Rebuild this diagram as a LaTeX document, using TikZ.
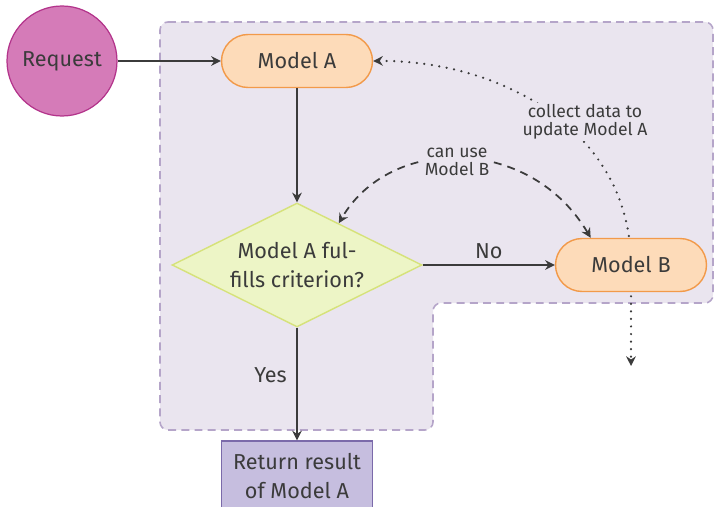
\documentclass[tikz,border=0pt]{standalone}
\usepackage{fontspec}
\setmainfont{Fira Sans}
\usetikzlibrary{shapes.geometric,arrows.meta,backgrounds}

\definecolor{ink}{HTML}{3B3B3B}
\definecolor{reqfill}{HTML}{D57BB8}
\definecolor{reqline}{HTML}{B3348B}
\definecolor{modelfill}{HTML}{FDDBB9}
\definecolor{modelline}{HTML}{F29A4A}
\definecolor{critfill}{HTML}{EDF5C6}
\definecolor{critline}{HTML}{D6E27A}
\definecolor{retfill}{HTML}{C6BEDF}
\definecolor{retline}{HTML}{7B6AAA}
\definecolor{areafill}{HTML}{EAE5EF}
\definecolor{arealine}{HTML}{B5A5C9}

\tikzset{
  txt/.style={text=ink, font=\fontsize{12.3}{16.5}\selectfont},
  start/.style={txt, circle, draw=reqline, fill=reqfill, minimum size=2.2cm, line width=0.7pt},
  model/.style={txt, draw=modelline, fill=modelfill, rounded corners=0.53cm,
    minimum width=3.02cm, minimum height=1.06cm, line width=0.8pt},
  check/.style={txt, diamond, aspect=2, draw=critline, fill=critfill, align=center, inner sep=0pt,
    minimum width=5cm, minimum height=2.48cm, line width=0.8pt},
  result/.style={txt, draw=retline, fill=retfill, align=center,
    minimum width=3.02cm, minimum height=1.4cm, line width=0.7pt},
  note/.style={text=ink, fill=areafill, align=center, inner sep=1pt,
    font=\fontsize{10}{10.5}\selectfont},
  region/.style={draw=arealine, fill=areafill, dash pattern=on 4.5pt off 3pt,
    line width=0.9pt, rounded corners=0.16cm},
  tip/.style={-{Stealth[length=5.5pt, width=5.5pt, inset=1.8pt]}},
  flow/.style={tip, draw=ink, line width=1pt},
  optional/.style={{Stealth[length=5.5pt, width=5.5pt, inset=1.8pt]}-{Stealth[length=5.5pt, width=5.5pt, inset=1.8pt]},
    draw=ink, line width=1pt, dash pattern=on 4.5pt off 3.5pt},
  feedback/.style={{Stealth[length=5.5pt, width=5.5pt, inset=1.8pt]}-{Stealth[length=5.5pt, width=5.5pt, inset=1.8pt]},
    draw=ink, line width=1.4pt, line cap=round, dash pattern=on 0pt off 4.3pt}
}

\begin{document}
\begin{tikzpicture}[x=0.02cm, y=-0.02cm]
  \useasboundingbox (0,0) rectangle (715,506);

  % Nodes
  \node(req) [start] at (62,61) {Request};
  \node(ma) [model] at (297,61) {Model A};
  \node(crit) [check] at (297,265) {Model A ful-\\fills criterion?};
  \node(mb) [model] at (631,265) {Model B};
  \node(ret) [result] at (297,476) {Return result\\of Model A};
  \coordinate(dn) at (631,366);

  % Region and feedback loop
  \begin{scope}[on background layer]
    \draw[region] (160,22) -- (713,22) -- (713,303) -- (433,303) -- (433,430) -- (160,430) -- cycle;
    \draw[feedback] (ma.east) .. controls (500,60) and (631,130) .. (mb.center) -- (dn);
  \end{scope}

  % Edges
  \draw[flow] (req) -- (ma);
  \draw[flow] (ma) -- (crit);
  \draw[flow] (crit) -- node[above, txt] {No} (mb);
  \draw[flow] (crit) -- node[pos=0.42, left=2pt, txt] {Yes} (ret);
  \draw[optional] (mb.146) .. controls (530,135) and (390,135) .. (crit.45);

  % Labels
  \node(use) [note] at (457,162) {can use\\Model B};
  \node(col) [note] at (585,122) {collect data to\\update Model A};
\end{tikzpicture}
\end{document}
